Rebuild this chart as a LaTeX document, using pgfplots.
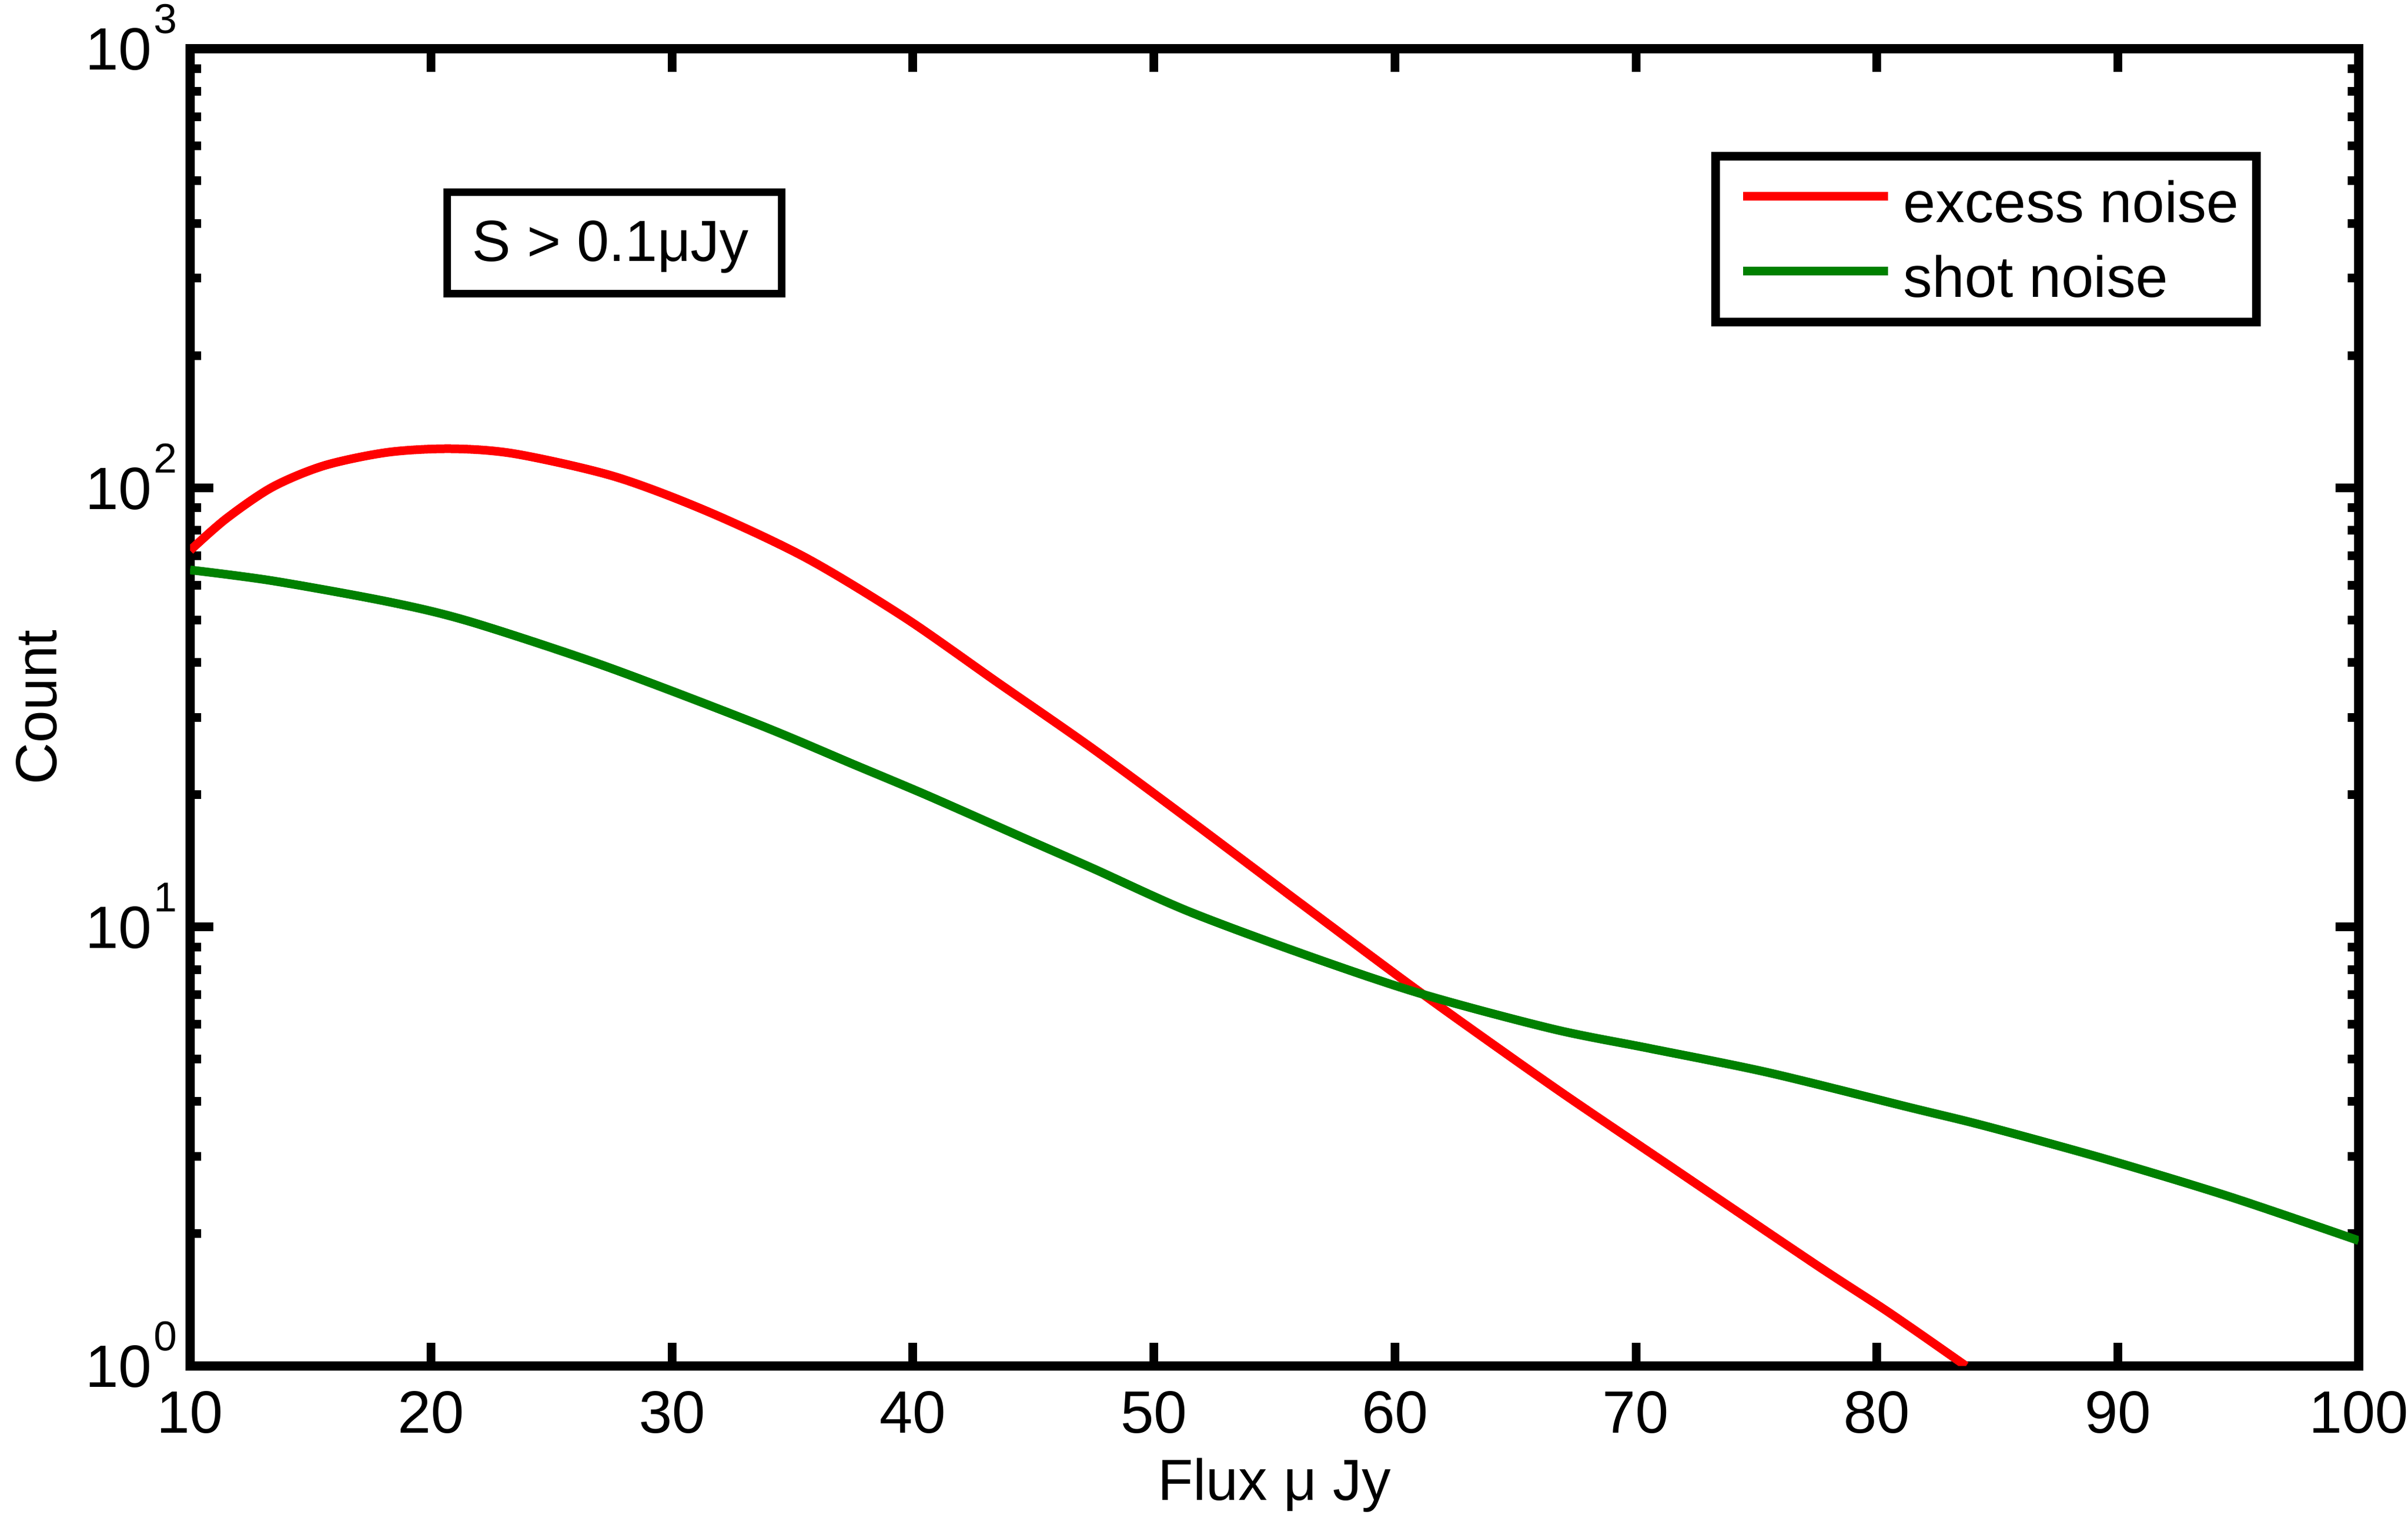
\documentclass[border=0pt]{standalone}
\usepackage{fontspec}
\setmainfont{Liberation Sans}
\usepackage{pgfplots}
\pgfplotsset{compat=1.18}
\definecolor{mgreen}{RGB}{0,128,0}
\newcommand{\tenexp}[1]{10\kern0.4pt\raisebox{6.3pt}{\fontsize{7.2}{8}\selectfont #1}}
\begin{document}
\begin{tikzpicture}
\begin{axis}[
  at={(0,0)}, anchor=south west,
  scale only axis, width=374.1pt, height=227.2pt,
  ymode=log, xmin=10, xmax=100, ymin=1, ymax=1000,
  xtick={10,20,...,100},
  ytick={1,10,100,1000},
  yticklabels={\tenexp{0},\tenexp{1},\tenexp{2},\tenexp{3}},
  font=\fontsize{10}{12}\selectfont,
  tick label style={font=\fontsize{10.3}{12}\selectfont},
  /pgf/number format/assume math mode=true,
  tick align=inside,
  major tick length=4pt, minor tick length=1.9pt,
  tick style={black, line width=1.5pt},
  axis line style={line width=1.6pt},
  xticklabel style={anchor=base, inner sep=0pt, yshift=-11.6pt},
  yticklabel style={anchor=base east, inner sep=0pt, xshift=-2.0pt, yshift=-3.7pt},
  xlabel={Flux μ Jy}, ylabel={Count},
  xlabel style={at={(axis description cs:0.5,-0.1021)}, anchor=base, inner sep=0pt},
  ylabel style={at={(axis description cs:-0.0615,0.5)}, anchor=base, inner sep=0pt},
  legend style={at={(rel axis cs:0.7034,0.9183)}, anchor=north west, draw=black,
    line width=1.5pt, outer sep=0pt, inner xsep=3pt, inner ysep=2pt,
    row sep=1.2pt, column sep=1.9pt, fill=white,
    nodes={inner sep=0pt, text height=9.35pt, text depth=2.35pt},
    font=\fontsize{10}{12}\selectfont},
  legend cell align=left,
  legend image code/.code={\path (0pt,0pt); \draw[#1] (1.05pt,1pt) -- (26.05pt,1pt);},
]
\addplot[red, line width=1.5pt, smooth] coordinates {
 (10,72) (11.49,85) (13.42,100.4) (15.58,112.4) (18.23,120.5) (20.87,122.7)
 (23.52,119.4) (27.61,106.1) (31.46,88.4) (35.55,69.3) (39.64,50.7) (43.49,36.1)
 (47.4,25.6) (51.67,17.2) (56.48,10.9) (61.17,7.02) (66.58,4.32) (71.39,2.86)
 (77.41,1.71) (80.54,1.32) (83.7,1.0)
};
\addlegendentry{excess noise}
\addplot[mgreen, line width=1.5pt, smooth] coordinates {
 (10,65) (13.42,61.4) (18.23,55.0) (21.6,49.6) (27.14,39.4) (33.52,29.0)
 (37.49,23.5) (40.62,19.9) (44.47,16.05) (47.45,13.6) (51.43,10.85) (56.48,8.56)
 (61.17,7.02) (66.58,5.85) (70.55,5.29) (75.48,4.66) (81.37,3.88) (84.5,3.52)
 (89.49,2.96) (94.64,2.43) (100,1.93)
};
\addlegendentry{shot noise}
\draw[line width=1.3pt] (axis cs:20.67,471.2) rectangle (axis cs:34.55,276.8);
\node[anchor=base, inner sep=0pt] at (axis cs:27.45,327.7) {S > 0.1μJy};
\end{axis}
\pgfresetboundingbox
\path[use as bounding box] (-32.8pt,-25.7pt) rectangle (382.6pt,235.6pt);
\end{tikzpicture}
\end{document}
